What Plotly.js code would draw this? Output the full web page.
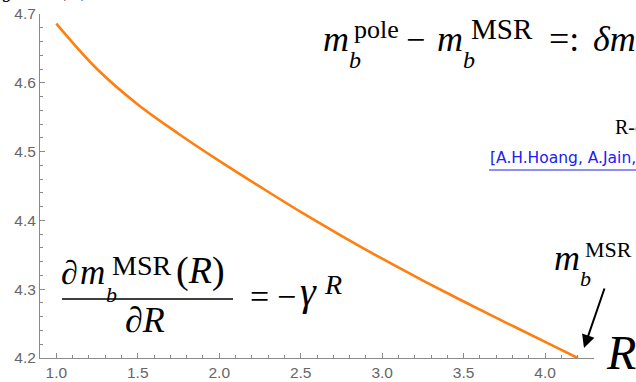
<!DOCTYPE html>
<html>
<head>
<meta charset="utf-8">
<script src="https://cdn.plot.ly/plotly-3.0.1.min.js"></script>
<style>html,body{margin:0;padding:0;background:#fff;}#chart{width:636px;height:382px;}</style>
</head>
<body>
<div id="chart"></div>
<script>
// ---- data ----
const R_values = [1.0, 1.25, 1.5, 1.75, 2.0, 2.25, 2.5, 2.75, 3.0, 3.25, 3.5, 3.75, 4.0, 4.2];
const mMSR_values = [4.686, 4.620, 4.5685, 4.526, 4.4865, 4.449, 4.4123, 4.3776, 4.3443, 4.3126, 4.2821, 4.2526, 4.2235, 4.200];
const xTickVals = [1.0, 1.5, 2.0, 2.5, 3.0, 3.5, 4.0];
const xTickText = ['1.0', '1.5', '2.0', '2.5', '3.0', '3.5', '4.0'];
const yTickVals = [4.2, 4.3, 4.4, 4.5, 4.6, 4.7];
const yTickText = ['4.2', '4.3', '4.4', '4.5', '4.6', '4.7'];

// ---- layout helpers (pixel -> paper) ----
const L = 40, W = 554, H = 344, BOT = 358;
function px(x) { return (x - L) / W; }
function py(y) { return (BOT - y) / H; }
const SERIF = 'Liberation Serif, Times New Roman, serif';
const SANS = 'Liberation Sans, Arial, sans-serif';
function txt(x, base, text, size, color, family) {
  const desc = 0.216 * size;
  return {xref: 'paper', yref: 'paper', x: px(x), y: py(base + desc),
    xanchor: 'left', yanchor: 'bottom', text: text, showarrow: false,
    borderpad: 0, font: {family: family || SERIF, size: size, color: color || '#000'}};
}

const annotations = [
  // top-left cut fragment
  txt(1, 3, '<i>b</i>', 20),
  txt(57, -3, '(<i>R</i>)', 24),
  // m_b^pole - m_b^MSR =: δm
  txt(322, 52, '<i>m</i>', 36),
  txt(348, 69, '<i>b</i>', 24),
  txt(353, 39, 'pole', 26),
  txt(405, 52, '−', 34),
  txt(436, 52, '<i>m</i>', 36),
  txt(462, 69, '<i>b</i>', 24),
  txt(470, 40, 'MSR', 29),
  txt(548, 52, '=:', 36),
  txt(592, 52, '<i>δm</i>', 36),
  // R-evolution
  txt(614, 135, 'R-evolution', 20),
  // citation
  txt(489, 165, '[A.H.Hoang, A.Jain, I.Scimemi, I.W.Stewart]', 15.5, '#2020f0', 'DejaVu Sans, Verdana, sans-serif'),
  // dm/dR = -gamma^R
  txt(60, 285, '<i>∂</i>', 34),
  txt(79, 285, '<i>m</i>', 35),
  txt(105, 303, '<i>b</i>', 22),
  txt(111, 276, 'MSR', 28),
  txt(175, 285, '(<i>R</i>)', 38),
  txt(124, 333, '<i>∂R</i>', 36),
  txt(249, 309, '=', 34),
  txt(276, 309, '−', 34),
  txt(299, 306, '<i>γ</i>', 40),
  txt(323, 295, '<i>R</i>', 28),
  // m_b^MSR label
  txt(553, 271, '<i>m</i>', 36),
  txt(579, 287, '<i>b</i>', 22),
  txt(584, 258, 'MSR', 22),
  // big R at axis end
  txt(605, 370, '<i>R</i>', 48),
  // arrow
  {xref: 'paper', yref: 'paper', x: px(584), y: py(348), ax: 21, ay: -61,
   axref: 'pixel', ayref: 'pixel', text: '', showarrow: true, arrowhead: 2,
   arrowsize: 1.3, arrowwidth: 2, arrowcolor: '#000', standoff: 0}
];

const shapes = [
  {type: 'line', xref: 'paper', yref: 'paper', x0: px(62), x1: px(233), y0: py(299), y1: py(299),
   line: {color: '#000', width: 1.6}},
  {type: 'line', xref: 'paper', yref: 'paper', x0: px(489), x1: px(640), y0: py(170), y1: py(170),
   line: {color: '#2020f0', width: 1}}
];

const trace = {
  x: R_values, y: mMSR_values, type: 'scatter', mode: 'lines',
  line: {color: '#ff7f0e', width: 2.6, shape: 'spline', smoothing: 1},
  hoverinfo: 'skip', showlegend: false
};

const axisCommon = {
  showgrid: false, zeroline: false, showline: true, linecolor: '#8a8a8a', linewidth: 1,
  ticks: 'inside', tickcolor: '#8a8a8a', tickwidth: 1, ticklen: 5,
  tickfont: {family: SANS, size: 15.5, color: '#666'},
  fixedrange: true
};

const layout = {
  width: 636, height: 382,
  margin: {l: 40, r: 42, t: 14, b: 24, pad: 0},
  paper_bgcolor: '#fff', plot_bgcolor: '#fff',
  xaxis: Object.assign({}, axisCommon, {
    range: [0.9, 4.3], tickmode: 'array', tickvals: xTickVals, ticktext: xTickText,
    minor: {dtick: 0.1, tick0: 1.0, ticks: 'inside', ticklen: 3, tickcolor: '#8a8a8a', tickwidth: 1}
  }),
  yaxis: Object.assign({}, axisCommon, {
    range: [4.2, 4.7], tickmode: 'array', tickvals: yTickVals, ticktext: yTickText,
    minor: {dtick: 0.02, tick0: 4.2, ticks: 'inside', ticklen: 3, tickcolor: '#8a8a8a', tickwidth: 1}
  }),
  annotations: annotations,
  shapes: shapes
};

Plotly.newPlot('chart', [trace], layout, {displayModeBar: false, staticPlot: true});
</script>
</body>
</html>
